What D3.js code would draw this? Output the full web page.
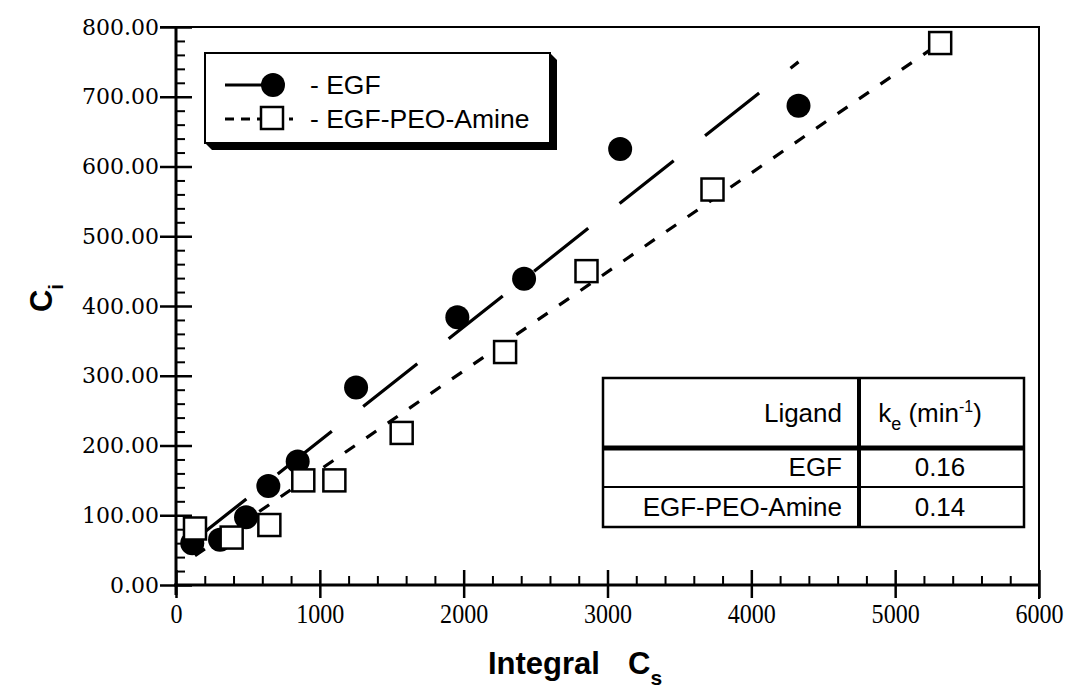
<!DOCTYPE html>
<html>
<head>
<meta charset="utf-8">
<script src="https://cdn.jsdelivr.net/npm/d3@7"></script>
<style>
  body { margin: 0; background: #fff; }
  svg { display: block; }
</style>
</head>
<body>
<svg id="chart" width="1071" height="692"></svg>
<script>
// data
const egfX = [113, 306, 487, 642, 846, 1252, 1956, 2420, 3088, 4328];
const egfY = [60, 65, 97, 142, 177, 283, 384, 439, 625, 687];
const peoX = [132, 387, 649, 885, 1101, 1569, 2288, 2854, 3730, 5313];
const peoY = [81, 68, 86, 150, 150, 218, 334, 450, 567, 777];
// fitted lines (end points)
const egfFitX = [113, 4328];
const egfFitY = [62, 750];
const peoFitX = [132, 5313];
const peoFitY = [42, 777];

const xTicks = [0, 1000, 2000, 3000, 4000, 5000, 6000];
const yTicks = [0, 100, 200, 300, 400, 500, 600, 700, 800];

const tableHead = ['Ligand', 'ke'];
const tableLigands = ['EGF', 'EGF-PEO-Amine'];
const tableKe = ['0.16', '0.14'];

const plot = { left: 176, right: 1039, top: 27, bottom: 585 };

const svg = d3.select('#chart');

const x = d3.scaleLinear().domain([0, 6000]).range([plot.left, plot.right]);
const y = d3.scaleLinear().domain([0, 800]).range([plot.bottom, plot.top]);

const xMinor = d3.range(0, 6001, 200).filter(v => v % 1000 !== 0);
const yMinor = d3.range(0, 801, 20).filter(v => v % 100 !== 0);

// frame (top and right)
svg.append('path')
    .attr('d', `M${plot.left - 16},${plot.top}H${plot.right}V${plot.bottom + 14}`)
    .attr('fill', 'none')
    .attr('stroke', '#000')
    .attr('stroke-width', 2);

const styleAxis = (g, w) => {
    g.select('.domain').remove();
    g.selectAll('.tick line').attr('stroke', '#000').attr('stroke-width', w);
};

// x axis
const gx = svg.append('g').attr('transform', `translate(0,${plot.bottom})`);
gx.append('g')
    .call(d3.axisBottom(x).tickValues(xTicks).tickSize(13).tickPadding(5).tickFormat(d3.format('d')))
    .call(g => styleAxis(g, 2.5))
    .call(g => g.selectAll('text')
        .attr('font-family', '"Liberation Serif", "Times New Roman", serif')
        .attr('font-size', 28)
        .attr('fill', '#000')
        .attr('transform', 'scale(0.86,1)'));
gx.append('g')
    .call(d3.axisBottom(x).tickValues(xTicks).tickSize(-15).tickFormat(''))
    .call(g => styleAxis(g, 2.5));
gx.append('g')
    .call(d3.axisBottom(x).tickValues(xMinor).tickSize(-9).tickFormat(''))
    .call(g => styleAxis(g, 2));
gx.append('line')
    .attr('x1', plot.left - 2).attr('x2', plot.right)
    .attr('stroke', '#000').attr('stroke-width', 3);

// y axis
const gy = svg.append('g').attr('transform', `translate(${plot.left},0)`);
gy.append('g')
    .call(d3.axisLeft(y).tickValues(yTicks).tickSize(16).tickPadding(1).tickFormat(d3.format('.2f')))
    .call(g => styleAxis(g, 2.5))
    .call(g => g.selectAll('text')
        .attr('font-family', '"DejaVu Serif", serif')
        .attr('font-size', 22)
        .attr('fill', '#000'));
gy.append('g')
    .call(d3.axisLeft(y).tickValues(yTicks).tickSize(-16).tickFormat(''))
    .call(g => styleAxis(g, 2.5));
gy.append('g')
    .call(d3.axisLeft(y).tickValues(yMinor).tickSize(-9).tickFormat(''))
    .call(g => styleAxis(g, 2));
gy.append('line')
    .attr('y1', plot.top).attr('y2', plot.bottom + 10)
    .attr('stroke', '#000').attr('stroke-width', 3);

// axis titles
const titleFont = '"Liberation Sans", Arial, sans-serif';
const xt = svg.append('text')
    .attr('x', 488).attr('y', 674)
    .attr('font-family', titleFont)
    .attr('font-weight', 'bold')
    .attr('font-size', 31);
xt.append('tspan').text('Integral');
xt.append('tspan').attr('x', 628).text('C');
xt.append('tspan').attr('font-size', 21).attr('dy', 11).text('s');

const yt = svg.append('text')
    .attr('transform', 'translate(52,298) rotate(-90)')
    .attr('text-anchor', 'middle')
    .attr('font-family', titleFont)
    .attr('font-weight', 'bold')
    .attr('font-size', 31);
yt.append('tspan').text('C');
yt.append('tspan').attr('font-size', 21).attr('dy', 11).text('i');

// fit lines
const line = d3.line().x(d => x(d[0])).y(d => y(d[1]));
svg.append('path')
    .datum(d3.zip(egfFitX, egfFitY))
    .attr('d', line)
    .attr('fill', 'none').attr('stroke', '#000').attr('stroke-width', 3.2)
    .attr('stroke-dasharray', '69,40');
svg.append('path')
    .datum(d3.zip(peoFitX, peoFitY))
    .attr('d', line)
    .attr('fill', 'none').attr('stroke', '#000').attr('stroke-width', 3.2)
    .attr('stroke-dasharray', '12,14');

// markers
svg.append('g').selectAll('circle')
    .data(d3.zip(egfX, egfY))
    .join('circle')
    .attr('cx', d => x(d[0])).attr('cy', d => y(d[1]))
    .attr('r', 12).attr('fill', '#000');

const sq = 22;
svg.append('g').selectAll('rect')
    .data(d3.zip(peoX, peoY))
    .join('rect')
    .attr('x', d => x(d[0]) - sq / 2).attr('y', d => y(d[1]) - sq / 2)
    .attr('width', sq).attr('height', sq)
    .attr('fill', '#fff').attr('stroke', '#000').attr('stroke-width', 2.5);

// legend
const leg = { l: 205, t: 53, r: 550, b: 143, off: 7 };
svg.append('polygon')
    .attr('points', [
        [leg.l, leg.b], [leg.l + leg.off, leg.b + leg.off], [leg.r + leg.off, leg.b + leg.off],
        [leg.r + leg.off, leg.t + leg.off], [leg.r, leg.t]
    ].map(p => p.join(',')).join(' '))
    .attr('fill', '#000');
svg.append('rect')
    .attr('x', leg.l).attr('y', leg.t)
    .attr('width', leg.r - leg.l).attr('height', leg.b - leg.t)
    .attr('fill', '#fff').attr('stroke', '#000').attr('stroke-width', 2);

const legFont = '"Liberation Sans", Arial, Helvetica, sans-serif';
svg.append('line')
    .attr('x1', 225).attr('x2', 265).attr('y1', 85).attr('y2', 85)
    .attr('stroke', '#000').attr('stroke-width', 3);
svg.append('circle').attr('cx', 273).attr('cy', 85).attr('r', 12).attr('fill', '#000');
svg.append('text').attr('x', 310).attr('y', 94)
    .attr('font-family', legFont).attr('font-size', 26.5)
    .text('- EGF');

svg.append('line')
    .attr('x1', 225).attr('x2', 293).attr('y1', 119).attr('y2', 119)
    .attr('stroke', '#000').attr('stroke-width', 3)
    .attr('stroke-dasharray', '9,7');
svg.append('rect').attr('x', 261).attr('y', 107).attr('width', 22).attr('height', 22)
    .attr('fill', '#fff').attr('stroke', '#000').attr('stroke-width', 2.5);
svg.append('text').attr('x', 310).attr('y', 128)
    .attr('font-family', legFont).attr('font-size', 26.5)
    .text('- EGF-PEO-Amine');

// table
const tb = { l: 603, r: 1024, mid: 859, t: 378, h1: 448, h2: 487, b: 527 };
const gt = svg.append('g');
gt.append('rect')
    .attr('x', tb.l).attr('y', tb.t)
    .attr('width', tb.r - tb.l).attr('height', tb.b - tb.t)
    .attr('fill', '#fff').attr('stroke', '#000').attr('stroke-width', 2.5);
gt.append('line').attr('x1', tb.mid).attr('x2', tb.mid).attr('y1', tb.t).attr('y2', tb.b)
    .attr('stroke', '#000').attr('stroke-width', 4);
gt.append('line').attr('x1', tb.l).attr('x2', tb.r).attr('y1', tb.h1).attr('y2', tb.h1)
    .attr('stroke', '#000').attr('stroke-width', 5);
gt.append('line').attr('x1', tb.l).attr('x2', tb.r).attr('y1', tb.h2).attr('y2', tb.h2)
    .attr('stroke', '#000').attr('stroke-width', 2);

const tText = (xx, yy, anchor) => gt.append('text')
    .attr('x', xx).attr('y', yy).attr('text-anchor', anchor)
    .attr('font-family', legFont).attr('font-size', 26);
tText(842, 422, 'end').text(tableHead[0]);
const ke = tText(930, 422, 'middle');
ke.append('tspan').text('k');
ke.append('tspan').attr('font-size', 18).attr('dy', 8).text('e');
ke.append('tspan').attr('dy', -8).text(' (min');
ke.append('tspan').attr('font-size', 16).attr('dy', -10).text('-1');
ke.append('tspan').attr('dy', 10).text(')');

const rowY = [476, 516];
tableLigands.forEach((name, i) => {
    tText(842, rowY[i], 'end').text(name);
    tText(940, rowY[i], 'middle').text(tableKe[i]);
});
</script>
</body>
</html>
